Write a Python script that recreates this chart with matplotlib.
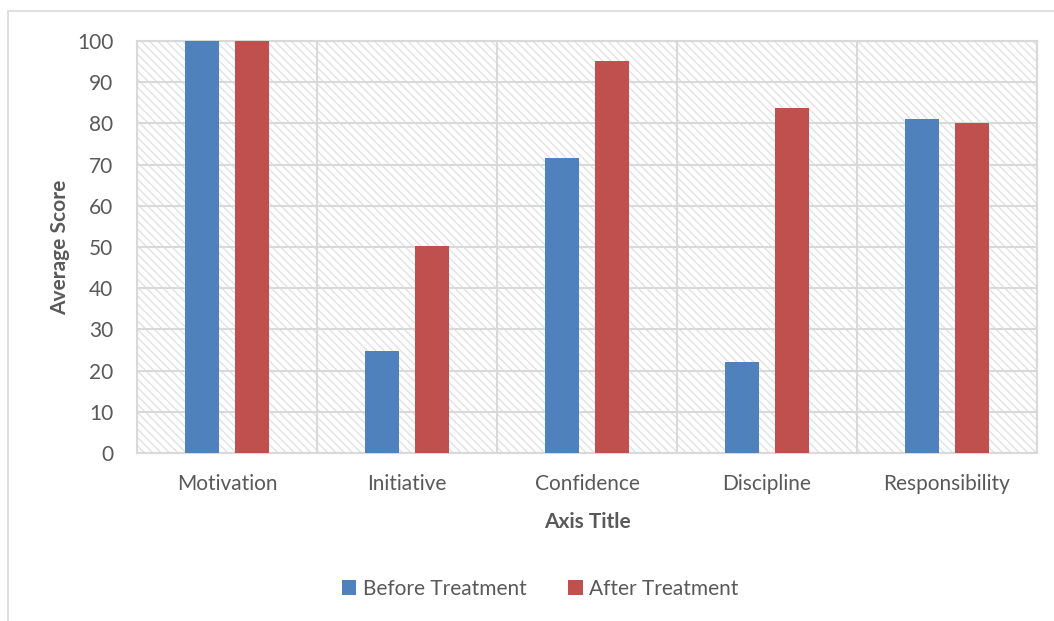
import matplotlib.pyplot as plt
import numpy as np
from matplotlib.patches import Rectangle

# chart values
categories = ["Motivation", "Initiative", "Confidence", "Discipline", "Responsibility"]
before = [100, 24.8, 71.6, 22.1, 81.1]
after = [100, 50.2, 95.1, 83.7, 80.1]
series_names = ["Before Treatment", "After Treatment"]
y_ticks = [0, 10, 20, 30, 40, 50, 60, 70, 80, 90, 100]

blue = "#4f81bd"
red = "#c0504d"
grid_col = "#d9d9d9"
text_col = "#595959"

plt.rcParams['font.family'] = ['Lato', 'DejaVu Sans']
plt.rcParams['hatch.linewidth'] = 1.0

fig = plt.figure(figsize=(10.54, 6.21), dpi=100)
ax = fig.add_axes([137 / 1054, 1 - 453 / 621, 900 / 1054, 412 / 621])

# outer chart border
fig.patches.append(Rectangle((8 / 1054, -0.05), 1.2, (621 - 11) / 621 + 0.05,
                             transform=fig.transFigure, fill=False,
                             edgecolor=grid_col, linewidth=1.2, zorder=0))

# hatched plot area
ax.add_patch(Rectangle((0, 0), 1, 1, transform=ax.transAxes, facecolor="white",
                       edgecolor="#e2e2e2", hatch="\\\\\\\\", linewidth=0, zorder=0.5))

x = np.arange(len(categories))
w = 0.19
ax.bar(x - 0.139, before, w, color=blue, label=series_names[0], zorder=3)
ax.bar(x + 0.139, after, w, color=red, label=series_names[1], zorder=3)

ax.set_xlim(-0.5, len(categories) - 0.5)
ax.set_ylim(0, 100)
ax.set_yticks(y_ticks)
ax.set_xticks(x)
ax.set_xticklabels(categories)
ax.set_xticks(np.arange(len(categories) + 1) - 0.5, minor=True)

ax.grid(axis="y", which="major", color=grid_col, linewidth=1.5, zorder=1)
ax.grid(axis="x", which="minor", color=grid_col, linewidth=1.5, zorder=1)
ax.set_axisbelow(True)

for s in ax.spines.values():
    s.set_color(grid_col)
    s.set_linewidth(1.5)

ax.tick_params(which="both", length=0, colors=text_col, labelsize=15)
ax.tick_params(axis="y", pad=17)
ax.tick_params(axis="x", pad=15)

ax.set_ylabel("Average Score", fontsize=15, fontweight="bold", color=text_col, labelpad=5)
ax.set_xlabel("Axis Title", fontsize=15, fontweight="bold", color=text_col, labelpad=13)

fig.legend(loc="center", bbox_to_anchor=(540 / 1054, 1 - 589 / 621), ncol=2,
           frameon=False, fontsize=15, labelcolor=text_col, handlelength=0.7,
           handleheight=0.7, handletextpad=0.3, columnspacing=2.0)

fig.savefig("out.png", dpi=100)
